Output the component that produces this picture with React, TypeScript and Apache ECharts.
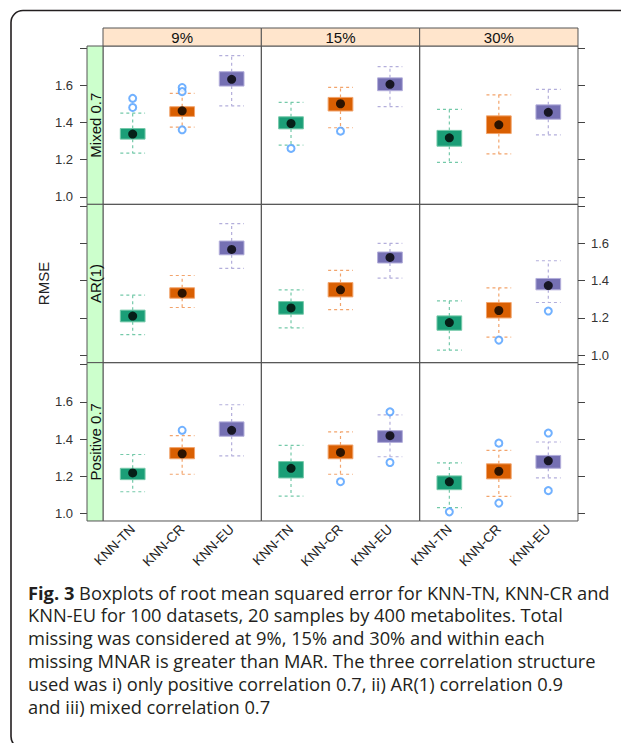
import React, { useEffect, useRef } from "react";
import * as echarts from "echarts";

const methods = ["KNN-TN", "KNN-CR", "KNN-EU"];
const missingLevels = ["9%", "15%", "30%"];
const structures = ["Mixed 0.7", "AR(1)", "Positive 0.7"];
const yTickValues = [1.0, 1.2, 1.4, 1.6, 1.8];
const yLabelValues = [1.0, 1.2, 1.4, 1.6];

// [lower whisker, Q1, median, Q3, upper whisker] for KNN-TN, KNN-CR, KNN-EU
const mixed9 = [[1.235, 1.31, 1.337, 1.367, 1.45], [1.375, 1.432, 1.462, 1.484, 1.556], [1.489, 1.595, 1.631, 1.672, 1.758]];
const mixed15 = [[1.278, 1.365, 1.394, 1.43, 1.507], [1.371, 1.461, 1.5, 1.534, 1.588], [1.484, 1.57, 1.604, 1.639, 1.699]];
const mixed30 = [[1.185, 1.272, 1.317, 1.357, 1.47], [1.231, 1.34, 1.387, 1.435, 1.548], [1.333, 1.417, 1.454, 1.494, 1.577]];
const ar9 = [[1.111, 1.179, 1.21, 1.242, 1.323], [1.256, 1.306, 1.333, 1.362, 1.428], [1.466, 1.539, 1.568, 1.613, 1.706]];
const ar15 = [[1.147, 1.22, 1.254, 1.288, 1.351], [1.245, 1.313, 1.351, 1.39, 1.455], [1.414, 1.495, 1.525, 1.554, 1.6]];
const ar30 = [[1.027, 1.134, 1.175, 1.211, 1.292], [1.097, 1.2, 1.24, 1.283, 1.362], [1.283, 1.351, 1.374, 1.412, 1.507]];
const pos9 = [[1.117, 1.182, 1.218, 1.243, 1.317], [1.211, 1.294, 1.321, 1.354, 1.418], [1.31, 1.415, 1.447, 1.492, 1.584]];
const pos15 = [[1.094, 1.191, 1.243, 1.279, 1.366], [1.211, 1.294, 1.328, 1.368, 1.438], [1.305, 1.382, 1.418, 1.445, 1.53]];
const pos30 = [[1.032, 1.128, 1.17, 1.202, 1.272], [1.092, 1.186, 1.227, 1.267, 1.339], [1.191, 1.243, 1.283, 1.312, 1.384]];

// outliers: [method index, value]
const mixed9Out = [[0, 1.529], [0, 1.48], [1, 1.587], [1, 1.565], [1, 1.36]];
const mixed15Out = [[0, 1.26], [1, 1.353]];
const mixed30Out: number[][] = [];
const ar9Out: number[][] = [];
const ar15Out: number[][] = [];
const ar30Out = [[1, 1.081], [2, 1.237]];
const pos9Out = [[1, 1.447]];
const pos15Out = [[1, 1.171], [2, 1.546], [2, 1.274]];
const pos30Out = [[0, 1.009], [1, 1.378], [1, 1.056], [2, 1.432], [2, 1.123]];

const captionLines = [
  "{b|Fig. 3} Boxplots of root mean squared error for KNN-TN, KNN-CR and",
  "KNN-EU for 100 datasets, 20 samples by 400 metabolites. Total",
  "missing was considered at 9%, 15% and 30% and within each",
  "missing MNAR is greater than MAR. The three correlation structure",
  "used was i) only positive correlation 0.7, ii) AR(1) correlation 0.9",
  "and iii) mixed correlation 0.7",
];

const panelStats = [[mixed9, mixed15, mixed30], [ar9, ar15, ar30], [pos9, pos15, pos30]];
const panelOut = [[mixed9Out, mixed15Out, mixed30Out], [ar9Out, ar15Out, ar30Out], [pos9Out, pos15Out, pos30Out]];

const fillColors = ["#1b9e77", "#d95f02", "#7570b3"];
const lineColors = ["#74c9a9", "#f2a46c", "#b3aedb"];

const PL = 103, PT = 46, PS = 158.33;
const YMIN = 0.96, YMAX = 1.81;
const axisFont = "Liberation Sans";
const capFont = "Open Sans";
const capSize = 18.3;

export default function App() {
  const ref = useRef<HTMLDivElement>(null);
  useEffect(() => {
    document.body.style.margin = "0";
    const chart = echarts.init(ref.current!, null, { renderer: "svg" });
    const grid: any[] = [];
    const xAxis: any[] = [];
    const yAxis: any[] = [];
    const series: any[] = [];
    const graphic: any[] = [];

    for (let r = 0; r < 3; r++) {
      for (let c = 0; c < 3; c++) {
        const i = r * 3 + c;
        grid.push({
          left: PL + c * PS, top: PT + r * PS, width: PS, height: PS,
          show: true, borderColor: "#555", borderWidth: 1, backgroundColor: "transparent",
        });
        xAxis.push({
          gridIndex: i, type: "value", min: 0.4, max: 3.6, show: r === 2,
          axisLine: { show: false }, axisTick: { show: false }, splitLine: { show: false },
          axisLabel: {
            customValues: [1, 2, 3],
            formatter: (v: number) => methods[Math.round(v) - 1],
            rotate: 45, margin: 6, fontSize: 13.5, color: "#222", fontFamily: axisFont,
          },
        });
        const leftIdx = yAxis.length;
        yAxis.push({
          gridIndex: i, type: "value", position: "left", offset: 16, min: YMIN, max: YMAX,
          show: c === 0,
          axisLine: { show: false }, splitLine: { show: false },
          axisTick: { show: true, customValues: yTickValues, length: 7, lineStyle: { color: "#444" } },
          axisLabel: {
            show: r !== 1, customValues: yLabelValues, formatter: (v: number) => v.toFixed(1),
            margin: 14, fontSize: 13, color: "#333", fontFamily: axisFont,
          },
        });
        if (c === 2) {
          yAxis.push({
            gridIndex: i, type: "value", position: "right", offset: 0, min: YMIN, max: YMAX,
            axisLine: { show: false }, splitLine: { show: false },
            axisTick: { show: true, customValues: yTickValues, length: 7, lineStyle: { color: "#444" } },
            axisLabel: {
              show: r === 1, customValues: yLabelValues, formatter: (v: number) => v.toFixed(1),
              margin: 13, fontSize: 13, color: "#333", fontFamily: axisFont,
            },
          });
        }
        const stats = panelStats[r][c];
        series.push({
          type: "custom", xAxisIndex: i, yAxisIndex: leftIdx, z: 2, silent: true,
          data: stats.map((s, k) => [k + 1, s[0], s[1], s[2], s[3], s[4], k]),
          encode: { x: 0, y: [1, 2, 3, 4, 5] },
          renderItem: (params: any, api: any) => {
            const x = api.value(0);
            const k = api.value(6);
            const lo = api.coord([x, api.value(1)]);
            const q1 = api.coord([x, api.value(2)]);
            const q3 = api.coord([x, api.value(4)]);
            const hi = api.coord([x, api.value(5)]);
            const hw = api.size([0.5, 0])[0] / 2;
            const dash = { stroke: lineColors[k], lineWidth: 1.2, lineDash: [3, 3] };
            return {
              type: "group",
              children: [
                { type: "line", shape: { x1: lo[0], y1: q1[1], x2: lo[0], y2: lo[1] }, style: dash },
                { type: "line", shape: { x1: hi[0], y1: q3[1], x2: hi[0], y2: hi[1] }, style: dash },
                { type: "line", shape: { x1: lo[0] - hw, y1: lo[1], x2: lo[0] + hw, y2: lo[1] }, style: dash },
                { type: "line", shape: { x1: hi[0] - hw, y1: hi[1], x2: hi[0] + hw, y2: hi[1] }, style: dash },
                {
                  type: "rect",
                  shape: { x: q3[0] - hw, y: q3[1], width: hw * 2, height: q1[1] - q3[1] },
                  style: { fill: fillColors[k], stroke: lineColors[k], lineWidth: 1 },
                },
              ],
            };
          },
        });
        series.push({
          type: "scatter", xAxisIndex: i, yAxisIndex: leftIdx, z: 3, silent: true,
          symbol: "circle", symbolSize: 9, itemStyle: { color: "#000" },
          data: stats.map((s, k) => [k + 1, s[2]]),
        });
        series.push({
          type: "scatter", xAxisIndex: i, yAxisIndex: leftIdx, z: 4, silent: true,
          symbol: "emptyCircle", symbolSize: 7,
          itemStyle: { color: "#4d9dff", borderColor: "#4d9dff", borderWidth: 1.3 },
          data: panelOut[r][c].map((o) => [o[0] + 1, o[1]]),
        });
      }
    }

    // top strips
    missingLevels.forEach((lab, c) => {
      graphic.push({
        type: "rect", shape: { x: PL + c * PS, y: 28, width: PS, height: PT - 28 },
        style: { fill: "#ffe5cc", stroke: "#555", lineWidth: 1 }, z: 5,
      });
      graphic.push({
        type: "text", x: PL + c * PS + PS / 2, y: 37.5, z: 6,
        style: { text: lab, fontSize: 15, fontFamily: axisFont, fill: "#111", align: "center", verticalAlign: "middle" },
      });
    });
    // left strips
    structures.forEach((lab, r) => {
      graphic.push({
        type: "rect", shape: { x: 87, y: PT + r * PS, width: PL - 87, height: PS },
        style: { fill: "#ccffcc", stroke: "#555", lineWidth: 1 }, z: 5,
      });
      graphic.push({
        type: "text", x: 95.5, y: PT + r * PS + PS / 2, rotation: Math.PI / 2, z: 6,
        style: { text: lab, fontSize: 15, fontFamily: axisFont, fill: "#111", align: "center", verticalAlign: "middle" },
      });
    });
    graphic.push({
      type: "text", x: 43, y: PT + 1.5 * PS, rotation: Math.PI / 2, z: 6,
      style: { text: "RMSE", fontSize: 15, fontFamily: axisFont, fill: "#222", align: "center", verticalAlign: "middle" },
    });
    // frame
    graphic.push({
      type: "rect", shape: { x: 11, y: 10.5, width: 700, height: 738, r: 12 }, z: 1,
      style: { fill: "none", stroke: "#231f20", lineWidth: 1.6 },
    });
    captionLines.forEach((line, j) => {
      graphic.push({
        type: "text", x: 28, y: 592 + j * 22.9, z: 6,
        style: {
          text: line, fontSize: capSize, fontFamily: capFont, fill: "#231f20",
          align: "left", verticalAlign: "middle",
          rich: { b: { fontWeight: "bold", fontSize: capSize, fontFamily: capFont, fill: "#231f20" } },
        },
      });
    });

    chart.setOption({
      animation: false,
      backgroundColor: "#fff",
      grid, xAxis, yAxis, series, graphic,
    });
    return () => chart.dispose();
  }, []);
  return <div ref={ref} style={{ width: 621, height: 743 }} />;
}
